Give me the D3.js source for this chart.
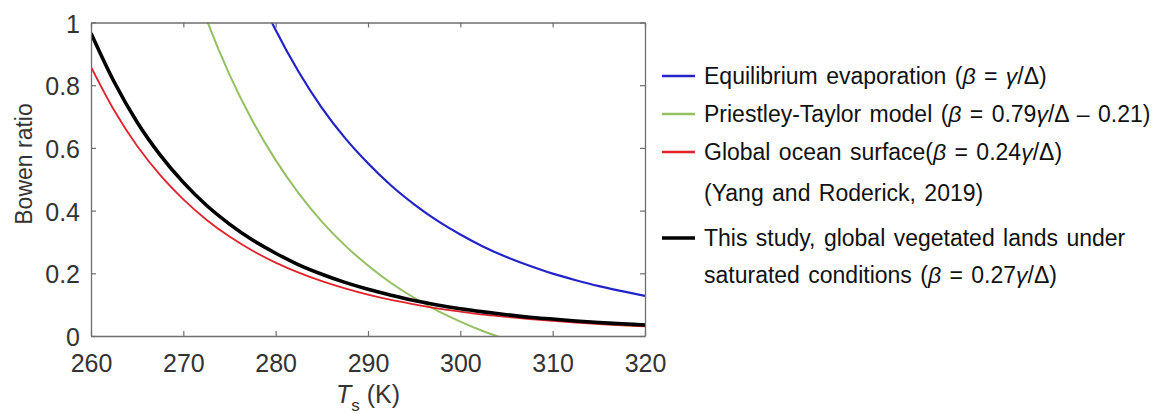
<!DOCTYPE html>
<html>
<head>
<meta charset="utf-8">
<script src="https://cdn.jsdelivr.net/npm/d3@7"></script>
<style>
  body { margin: 0; background: #fff; }
  svg { font-family: "Liberation Sans", Arial, sans-serif; }
</style>
</head>
<body>
<div id="viz"></div>
<script>
// surface temperature (K)
var temps = [260, 262.5, 265, 267.5, 270, 272.5, 275, 277.5, 280, 282.5, 285, 287.5,
             290, 292.5, 295, 297.5, 300, 302.5, 305, 307.5, 310, 312.5, 315, 317.5, 320];

// Bowen ratio
var equilibrium = [3.577, 3.002, 2.527, 2.138, 1.816, 1.546, 1.322, 1.134, 0.976, 0.842, 0.728, 0.632,
                   0.551, 0.480, 0.420, 0.368, 0.324, 0.285, 0.252, 0.224, 0.199, 0.178, 0.159, 0.143, 0.128];
var priestley = [null, null, null, null, 1.225, 1.011, 0.834, 0.686, 0.561, 0.455, 0.365, 0.289,
                 0.225, 0.169, 0.122, 0.081, 0.046, 0.015, -0.011, null, null, null, null, null, null];
var ocean = [0.858, 0.720, 0.606, 0.513, 0.436, 0.371, 0.317, 0.272, 0.234, 0.202, 0.175, 0.152,
             0.132, 0.115, 0.101, 0.088, 0.078, 0.068, 0.061, 0.054, 0.048, 0.043, 0.038, 0.034, 0.031];
var thisStudy = [0.966, 0.811, 0.682, 0.577, 0.490, 0.417, 0.357, 0.306, 0.264, 0.227, 0.197, 0.171,
                 0.149, 0.130, 0.113, 0.099, 0.087, 0.077, 0.068, 0.060, 0.054, 0.048, 0.043, 0.039, 0.035];

var xTicks = [260, 270, 280, 290, 300, 310, 320];
var yTicks = [0, 0.2, 0.4, 0.6, 0.8, 1];

var width = 1172, height = 414;
var margin = {top: 22.5, right: 527, bottom: 78, left: 91};

var svg = d3.select("#viz").append("svg")
  .attr("width", width)
  .attr("height", height);

var x = d3.scaleLinear().domain([260, 320]).range([margin.left, width - margin.right]);
var y = d3.scaleLinear().domain([0, 1]).range([height - margin.bottom, margin.top]);

var axisColor = "#6e6e6e";
var labelColor = "#333";

svg.append("clipPath").attr("id", "plotClip")
  .append("rect")
  .attr("x", x.range()[0]).attr("y", y.range()[1])
  .attr("width", x.range()[1] - x.range()[0])
  .attr("height", y.range()[0] - y.range()[1]);

// series
var series = [
  {name: "equilibrium", values: equilibrium, color: "#2323c8", width: 2.2},
  {name: "priestley", values: priestley, color: "#94c062", width: 2},
  {name: "ocean", values: ocean, color: "#e2222b", width: 1.8},
  {name: "thisStudy", values: thisStudy, color: "#000", width: 3.6}
];

var line = d3.line()
  .defined(function(d){ return d[1] !== null; })
  .x(function(d){ return x(d[0]); })
  .y(function(d){ return y(d[1]); })
  .curve(d3.curveMonotoneX);

var plot = svg.append("g").attr("clip-path", "url(#plotClip)");

series.forEach(function(s){
  var pts = temps.map(function(t, i){ return [t, s.values[i]]; });
  plot.append("path")
    .datum(pts)
    .attr("d", line)
    .attr("fill", "none")
    .attr("stroke", s.color)
    .attr("stroke-width", s.width)
    .attr("stroke-linejoin", "round");
});

// axes (box with inward ticks)
function styleAxis(g){
  g.attr("font-size", null).attr("font-family", null);
  g.select(".domain").attr("stroke", axisColor).attr("stroke-width", 1.3);
  g.selectAll(".tick line").attr("stroke", axisColor).attr("stroke-width", 1.2);
  g.selectAll(".tick text").attr("fill", labelColor).style("font-size", "25px");
}

var fmt = function(d){ return String(d); };

svg.append("g")
  .attr("transform", "translate(0," + y(0) + ")")
  .call(d3.axisBottom(x).tickValues(xTicks).tickFormat(fmt).tickSizeInner(-5).tickSizeOuter(0))
  .call(styleAxis)
  .call(function(g){ g.selectAll(".tick text").attr("y", 36).attr("dy", null); });

svg.append("g")
  .attr("transform", "translate(0," + y(1) + ")")
  .call(d3.axisTop(x).tickValues(xTicks).tickFormat("").tickSizeInner(-5).tickSizeOuter(0))
  .call(styleAxis);

svg.append("g")
  .attr("transform", "translate(" + x(260) + ",0)")
  .call(d3.axisLeft(y).tickValues(yTicks).tickFormat(fmt).tickSizeInner(-5).tickSizeOuter(0))
  .call(styleAxis)
  .call(function(g){ g.selectAll(".tick text").attr("x", -11).attr("dy", "0.38em"); });

svg.append("g")
  .attr("transform", "translate(" + x(320) + ",0)")
  .call(d3.axisRight(y).tickValues(yTicks).tickFormat("").tickSizeInner(-5).tickSizeOuter(0))
  .call(styleAxis);

// axis titles
svg.append("text")
  .attr("transform", "translate(32,164) rotate(-90)")
  .attr("text-anchor", "middle")
  .attr("fill", labelColor)
  .style("font-size", "23px")
  .text("Bowen ratio");

var xt = svg.append("text")
  .attr("x", (x(260) + x(320)) / 2)
  .attr("y", 403)
  .attr("text-anchor", "middle")
  .attr("fill", labelColor)
  .style("font-size", "25px");
xt.append("tspan").style("font-style", "italic").text("T");
xt.append("tspan").attr("dy", 8).style("font-size", "17px").text("s");
xt.append("tspan").attr("dy", -8).text(" (K)");

// legend
var legendRows = [
  {color: "#2323c8", y: 76, w: 2.4, parts: [["Equilibrium evaporation (", 0], ["β", 1], [" = ", 0], ["γ", 1], ["/Δ)", 0]]},
  {color: "#94c062", y: 114, w: 2.4, parts: [["Priestley-Taylor model (", 0], ["β", 1], [" = 0.79", 0], ["γ", 1], ["/Δ – 0.21)", 0]]},
  {color: "#e2222b", y: 152, w: 2.4, parts: [["Global ocean surface(", 0], ["β", 1], [" = 0.24", 0], ["γ", 1], ["/Δ)", 0]]},
  {color: null, y: 193, parts: [["(Yang and Roderick, 2019)", 0]]},
  {color: "#000", y: 238, w: 3.6, parts: [["This study, global vegetated lands under", 0]]},
  {color: null, y: 275, parts: [["saturated conditions (", 0], ["β", 1], [" = 0.27", 0], ["γ", 1], ["/Δ)", 0]]}
];

var legend = svg.append("g");

legendRows.forEach(function(r){
  if (r.color) {
    legend.append("line")
      .attr("x1", 662).attr("x2", 695)
      .attr("y1", r.y).attr("y2", r.y)
      .attr("stroke", r.color)
      .attr("stroke-width", r.w);
  }
  var t = legend.append("text")
    .attr("x", 704)
    .attr("y", r.y + 8)
    .attr("fill", "#111")
    .style("font-size", "23px")
    .style("word-spacing", "2px")
    .attr("xml:space", "preserve");
  r.parts.forEach(function(p){
    t.append("tspan").style("font-style", p[1] ? "italic" : "normal").text(p[0]);
  });
});
</script>
</body>
</html>
